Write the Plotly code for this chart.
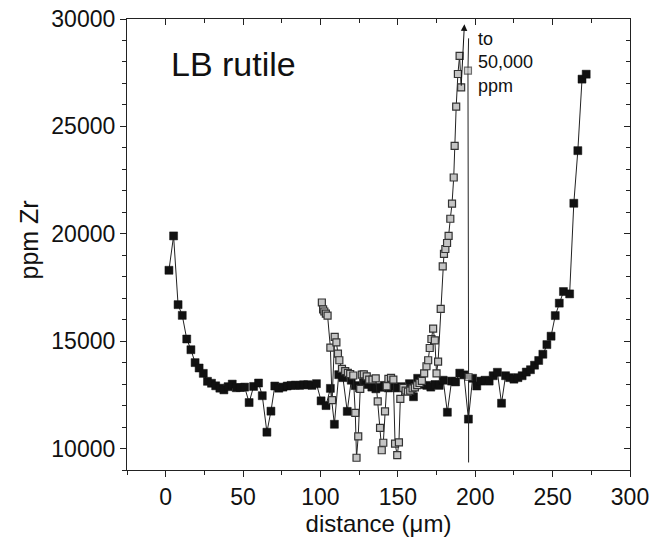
import plotly.graph_objects as go

# black (filled) profile
dist_a = [2.1, 5.1, 8.0, 10.7, 13.6, 16.3, 19.0, 21.6, 24.3, 27.0, 29.6, 32.3, 35.0, 37.6,
          40.3, 43.0, 45.6, 48.3, 51.0, 53.9, 56.8, 60.0, 62.4, 65.4, 68.0, 70.5, 73.1, 75.8,
          78.5, 81.0, 83.8, 86.5, 89.1, 91.8, 94.5, 97.4, 100.4, 103.6, 106.4, 109.0, 111.8,
          114.5, 117.3, 119.9, 122.5, 125.2, 127.8, 130.5, 133.2, 135.8, 138.5, 141.2, 143.8,
          146.5, 149.2, 152.1, 154.8, 157.5, 160.1, 162.8, 165.5, 168.7, 171.3, 174.0, 176.7,
          179.3, 182.0, 184.7, 187.3, 190.0, 192.7, 195.6, 198.3, 201.0, 203.7, 206.3, 209.0,
          211.6, 214.3, 217.0, 219.6, 222.3, 225.0, 227.6, 230.3, 233.0, 235.7, 238.3, 241.0,
          243.7, 246.3, 249.0, 251.7, 254.3, 257.0, 261.0, 263.7, 266.3, 269.0, 271.7]
zr_a = [18300, 19900, 16700, 16200, 15100, 14600, 14000, 13750, 13500, 13130, 13040, 12920,
        12810, 12730, 12880, 13000, 12830, 12840, 12860, 12140, 12890, 13050, 12460, 10760,
        11740, 12910, 12810, 12860, 12910, 12940, 12950, 12940, 12970, 12970, 12940, 13020,
        12220, 12000, 12800, 11130, 13440, 13300, 11730, 13180, 12930, 12820, 13050, 12980,
        12860, 12780, 12850, 12940, 12820, 12910, 12820, 12880, 12780, 13020, 12410, 13270,
        12980, 12940, 12860, 12980, 12940, 13180, 11690, 13140, 13100, 13510, 13430, 11370,
        13270, 12910, 13140, 13180, 13140, 13390, 13550, 12110, 13390, 13300, 13230, 13300,
        13390, 13560, 13670, 13880, 14100, 14390, 14840, 15230, 16190, 16770, 17310, 17200,
        21420, 23870, 27200, 27430]

# grey (open) profile
dist_b = [100.9, 101.7, 102.5, 103.5, 104.6, 106.4, 107.5, 109.2, 110.3, 111.3, 112.2, 113.9,
          116.0, 117.7, 119.2, 121.2, 122.5, 123.3, 124.4, 125.7, 126.7, 128.0, 129.9, 131.5,
          133.6, 135.7, 137.0, 138.5, 139.6, 140.6, 141.7, 142.8, 143.9, 145.6, 147.1, 148.2,
          149.6, 150.7, 151.6, 153.5, 155.0, 156.5, 158.0, 159.5, 161.0, 162.5, 164.0, 165.5,
          167.0, 168.5, 169.6, 170.6, 171.7, 172.8, 173.9, 175.0, 176.0, 177.7, 179.0, 179.8,
          180.7, 181.8, 182.8, 183.9, 185.0, 186.1, 186.7, 187.7, 188.8, 189.9, 190.9]
zr_b = [16800, 16480, 16380, 16280, 16190, 14700, 12250, 15200, 14940, 14420, 14110, 13710,
        13600, 13520, 13470, 13400, 11660, 9570, 10570, 12780, 13440, 13450, 13360, 13210,
        13210, 13270, 12200, 10960, 9920, 10270, 11730, 12900, 13240, 13290, 13210, 10230,
        9690, 10290, 12310, 12820, 12700, 12650, 12700, 12800, 12850, 12950, 13050, 13150,
        13500, 13830, 14110, 14680, 15100, 15580, 15040, 13500, 14050, 16500, 18480, 19060,
        19290, 19570, 19900, 20700, 21400, 22620, 24090, 25920, 27440, 28280, 26820]

# grey points on the long vertical line (ends without markers)
dist_c = [195.7, 195.3, 195.7, 195.7]
zr_c = [29100, 27600, 13330, 9350]
size_c = [0, 7, 7, 0]

FONT = "Arial, Liberation Sans, sans-serif"

fig = go.Figure()
fig.add_trace(go.Scatter(x=dist_a, y=zr_a, mode="lines+markers",
                         line=dict(color="#222", width=1),
                         marker=dict(symbol="square", size=8, color="#111",
                                     line=dict(color="#111", width=0.5)),
                         showlegend=False))
fig.add_trace(go.Scatter(x=dist_c, y=zr_c, mode="lines+markers",
                         line=dict(color="#222", width=1),
                         marker=dict(symbol="square", size=size_c, color="#c4c4c4",
                                     line=dict(color="#333", width=1.2)),
                         showlegend=False))
fig.add_trace(go.Scatter(x=dist_b, y=zr_b, mode="lines+markers",
                         line=dict(color="#222", width=1),
                         marker=dict(symbol="square", size=7, color="#c4c4c4",
                                     line=dict(color="#333", width=1.2)),
                         showlegend=False))
# dummy trace to carry the mirrored (inward-tick) axes
fig.add_trace(go.Scatter(x=[None], y=[None], xaxis="x2", yaxis="y2",
                         showlegend=False, hoverinfo="skip"))

xr = [-25, 300]
yr = [9000, 30000]
common = dict(showgrid=False, zeroline=False, showline=True, linecolor="#222",
              linewidth=1.2, tickcolor="#222", automargin=False)
tfont = dict(family=FONT, size=23, color="#111")

fig.update_layout(
    width=654, height=540,
    margin=dict(l=127, r=24, t=19, b=70),
    plot_bgcolor="white", paper_bgcolor="white",
    font=dict(family=FONT, color="#111"),
    xaxis=dict(range=xr, dtick=50, tick0=0, ticks="outside", ticklen=6, tickfont=tfont,
               ticklabeloverflow="allow",
               minor=dict(dtick=25, ticks="outside", ticklen=4, tickcolor="#222"),
               title=dict(text="distance (μm)", font=dict(family=FONT, size=24), standoff=6),
               **common),
    yaxis=dict(range=yr, dtick=5000, tick0=0, ticks="outside", ticklen=6, tickfont=tfont,
               tickformat="d", ticklabeloverflow="allow",
               minor=dict(dtick=1000, ticks="outside", ticklen=4, tickcolor="#222"),
               **common),
    xaxis2=dict(range=xr, overlaying="x", side="top", anchor="y", dtick=50, tick0=0,
                ticks="inside", ticklen=6, showticklabels=False,
                minor=dict(dtick=25, ticks="inside", ticklen=4, tickcolor="#222"),
                **common),
    yaxis2=dict(range=yr, overlaying="y", side="right", anchor="x", dtick=5000, tick0=0,
                ticks="inside", ticklen=6, showticklabels=False,
                minor=dict(dtick=1000, ticks="inside", ticklen=4, tickcolor="#222"),
                **common),
)

# y title as an annotation so it can sit where the reference has it
fig.add_annotation(x=0, y=0.5, xref="paper", yref="paper", xshift=-99, yshift=4,
                   text="ppm Zr", textangle=-90, showarrow=False,
                   xanchor="center", yanchor="middle",
                   font=dict(family=FONT, size=25, color="#111"))
fig.add_annotation(x=2, y=27900, xref="x", yref="y", text="LB rutile", showarrow=False,
                   xanchor="left", yanchor="middle", font=dict(family=FONT, size=34, color="#111"))
fig.add_annotation(x=200.5, y=29650, xref="x", yref="y", text="to<br>50,000<br>ppm",
                   showarrow=False, xanchor="left", yanchor="top", align="left",
                   font=dict(family=FONT, size=18, color="#111"))
fig.add_annotation(x=193, y=29750, ax=190.9, ay=26820, xref="x", yref="y",
                   axref="x", ayref="y", text="", showarrow=True,
                   arrowhead=2, arrowsize=1.3, arrowwidth=1, arrowcolor="#111")

# drop the default body margin so the figure sits at the window's corner
fig.write_html("out.html", config={"displayModeBar": False},
               post_script="document.body.style.margin='0px';")
